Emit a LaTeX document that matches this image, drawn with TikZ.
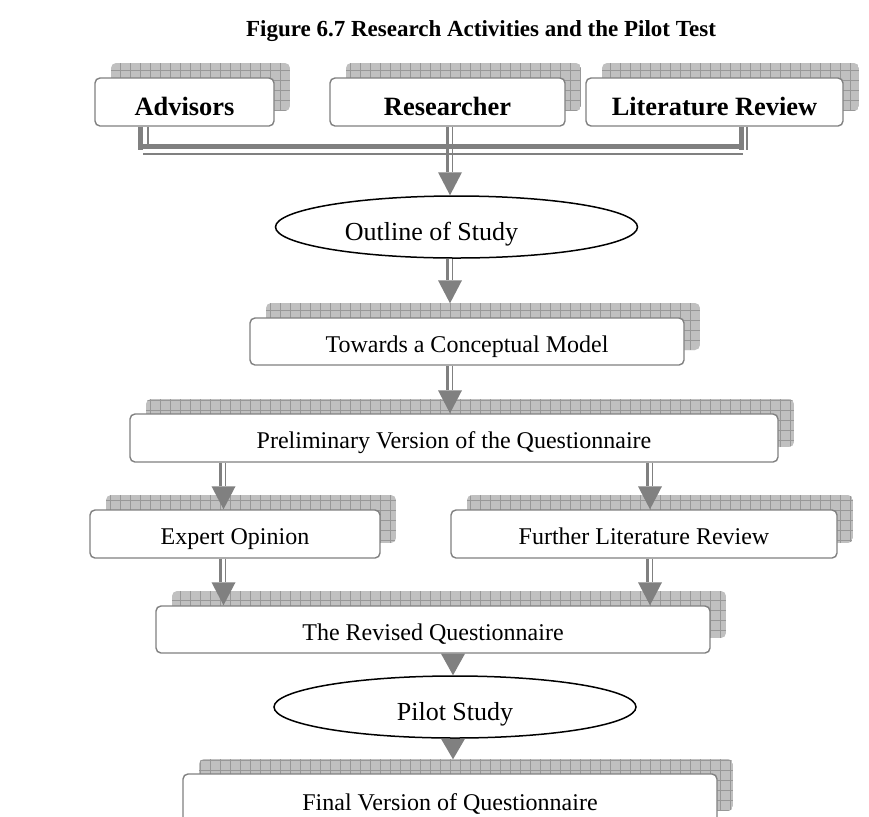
\documentclass[tikz,border=0pt]{standalone}
\usepackage{fontspec}
\setmainfont{Liberation Serif}
\usetikzlibrary{shapes.geometric,calc}

\definecolor{linegray}{HTML}{808080}
\definecolor{shadefill}{HTML}{C0C0C0}
\definecolor{shadegrid}{HTML}{989898}

\tikzset{
  stepbox/.style={draw=linegray, line width=0.7pt, rounded corners=2.5pt, fill=white,
    inner sep=0pt, text height=11pt, text depth=0.5pt, font=\fontsize{12}{14}\selectfont},
  topbox/.style={stepbox, text height=13.5pt, text depth=0.5pt,
    font=\fontsize{13.2}{15}\selectfont\bfseries},
  oval/.style={ellipse, draw=black, line width=0.75pt, fill=white, inner sep=0pt,
    minimum width=181pt, minimum height=31pt, text height=13.5pt, text depth=0.5pt,
    font=\fontsize{13}{15}\selectfont},
  shaftthick/.style={draw=linegray, line width=1.5pt},
  shaftthin/.style={draw=linegray, line width=0.65pt},
  barthick/.style={draw=linegray, line width=2.5pt},
  tiphead/.style={fill=linegray},
}

% box with a gridded shadow behind it: style, name, x1, y1, x2, y2, text
\newcommand\flowbox[7]{%
  \begin{scope}
    \clip[rounded corners=2.5pt] ({#3+16},{#4-15}) rectangle ({#5+16},{#6-15});
    \fill[shadefill] ({#3+16},{#4-15}) rectangle ({#5+16},{#6-15});
    \draw[shadegrid, line width=0.35pt, step=5pt] ({#3+16},{#4-15}) grid ({#5+16},{#6-15});
  \end{scope}
  \pgfmathsetmacro\boxw{(#5-#3)*0.5}%
  \pgfmathsetmacro\boxh{(#6-#4)*0.5}%
  \node[#1, minimum width=\boxw pt, minimum height=\boxh pt] (#2) at ({(#3+#5)/2},{(#4+#6)/2}) {#7};
}

% double shaft with a triangular head: start, tip, head length
\newcommand\twinarrow[3]{%
  \draw[shaftthick] ($(#1)+(-2.6,0)$) -- ($(#2)+(-2.6,-#3)$);
  \draw[shaftthin] ($(#1)+(2.3,0)$) -- ($(#2)+(2.3,-#3)$);
  \fill[tiphead] (#2) -- ($(#2)+(-12,-#3)$) -- ($(#2)+(12,-#3)$) -- cycle;
}

% triangular head only: base, tip
\newcommand\plainhead[2]{%
  \fill[tiphead] (#2) -- ($(#1)+(-12,0)$) -- ($(#1)+(12,0)$) -- cycle;
}

\begin{document}
\begin{tikzpicture}[x=0.5pt, y=-0.5pt]
  \useasboundingbox (0,0) rectangle (869,816);
  \clip (0,0) rectangle (869,816);

  \node[font=\fontsize{11.5}{14}\selectfont\bfseries] (title) at (481,31)
    {Figure 6.7 Research Activities and the Pilot Test};

  % sources
  \flowbox{topbox}{advisors}{95}{78}{274}{126}{Advisors}
  \flowbox{topbox}{researcher}{330}{78}{565}{126}{Researcher}
  \flowbox{topbox}{literature}{586}{78}{843}{126}{Literature Review}

  % column positions
  \coordinate (xadv) at (140.5,0);
  \coordinate (xadvb) at (148,0);
  \coordinate (xlit) at (741,0);
  \coordinate (xlitb) at (747,0);
  \coordinate (xmid) at (450,0);
  \coordinate (xleft) at (223.5,0);
  \coordinate (xright) at (650,0);
  \coordinate (xlow) at (453,0);

  % collecting bus under the three sources
  \coordinate (busL) at (138,146.5);
  \coordinate (busR) at (743.5,146.5);
  \coordinate (busLb) at (143,154);
  \coordinate (busRb) at (743,154);
  \draw[barthick] (xadv |- advisors.south) -- ++(0,23);
  \draw[shaftthin] (xadvb |- advisors.south) -- ++(0,18);
  \draw[barthick] (xlit |- literature.south) -- ++(0,23);
  \draw[shaftthin] (xlitb |- literature.south) -- ++(0,23);
  \draw[barthick] (busL) -- (busR);
  \draw[shaftthin] (busLb) -- (busRb);

  \node[oval] (outline) at (456.5,227) {Outline of Study\hspace*{25pt}};
  \flowbox{stepbox}{towards}{250}{318}{684}{365}{Towards a Conceptual Model}
  \flowbox{stepbox}{prelim}{130}{414}{778}{462}{Preliminary Version of the Questionnaire}
  \flowbox{stepbox}{expert}{90}{510}{380}{558}{Expert Opinion}
  \flowbox{stepbox}{further}{451}{510}{837}{558}{Further Literature Review}
  \flowbox{stepbox}{revised}{156}{606}{710}{653}{The Revised Questionnaire}
  \node[oval] (pilot) at (455,707) {Pilot Study};
  \flowbox{stepbox}{final}{183}{774}{717}{826}{Final Version of Questionnaire}

  % connector end points
  \coordinate (a1s) at (xmid |- researcher.south);
  \coordinate (a1t) at (xmid |- outline.north);
  \coordinate (a2s) at (xmid |- outline.south);
  \coordinate (a2t) at ($(xmid |- towards.north)+(0,-14)$);
  \coordinate (a3s) at (xmid |- towards.south);
  \coordinate (a3t) at (xmid |- prelim.north);
  \coordinate (a4s) at (xleft |- prelim.south);
  \coordinate (a4t) at (xleft |- expert.north);
  \coordinate (a5s) at (xright |- prelim.south);
  \coordinate (a5t) at (xright |- further.north);
  \coordinate (a6s) at (xleft |- expert.south);
  \coordinate (a6t) at (xleft |- revised.north);
  \coordinate (a7s) at (xright |- further.south);
  \coordinate (a7t) at (xright |- revised.north);
  \coordinate (a8s) at (xlow |- revised.south);
  \coordinate (a8t) at (xlow |- pilot.north);
  \coordinate (a9s) at (xlow |- pilot.south);
  \coordinate (a9t) at ($(xlow |- final.north)+(0,-14)$);

  \twinarrow{a1s}{a1t}{23}
  \twinarrow{a2s}{a2t}{23}
  \twinarrow{a3s}{a3t}{23}
  \twinarrow{a4s}{a4t}{23}
  \twinarrow{a5s}{a5t}{23}
  \twinarrow{a6s}{a6t}{23}
  \twinarrow{a7s}{a7t}{23}
  \plainhead{a8s}{a8t}
  \plainhead{a9s}{a9t}
\end{tikzpicture}
\end{document}
